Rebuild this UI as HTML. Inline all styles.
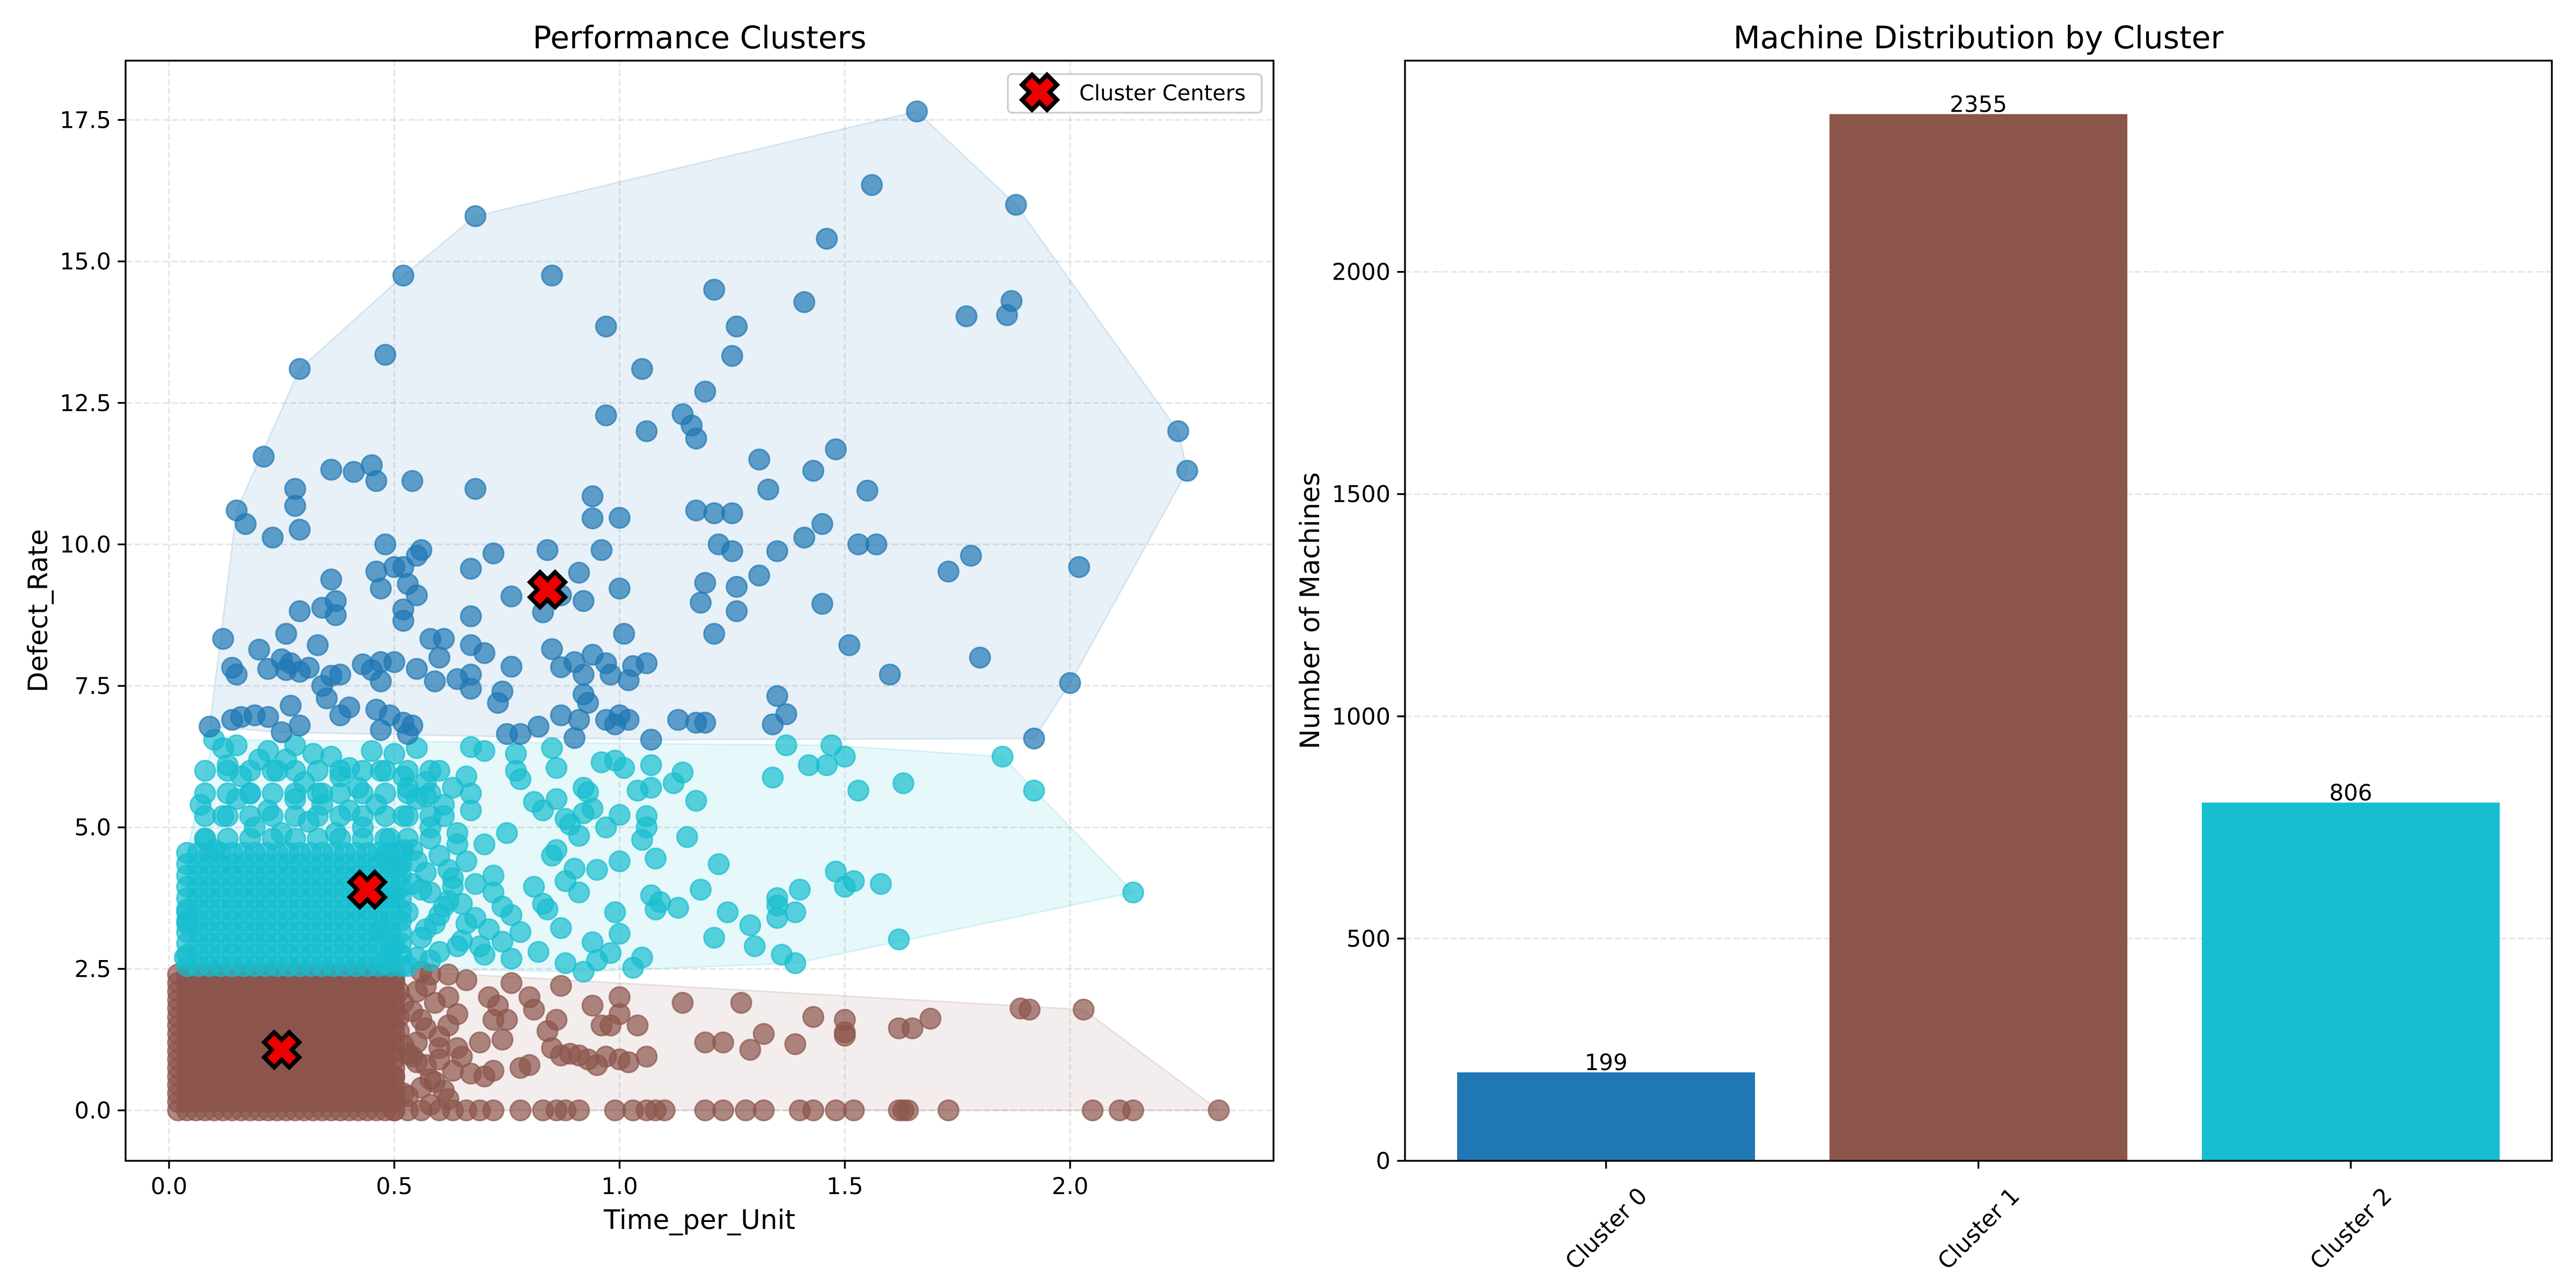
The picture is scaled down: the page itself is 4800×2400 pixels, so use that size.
<!DOCTYPE html>
<html><head><meta charset="utf-8"><title>Performance Clusters</title>
<style>html,body{margin:0;padding:0;background:#fff}svg{display:block}text{font-family:"DejaVu Sans","Liberation Sans",sans-serif;fill:#000}</style>
</head><body>
<svg id="fig" xmlns="http://www.w3.org/2000/svg" width="4800" height="2400" viewBox="0 0 4800 2400"></svg>
<script>
// ---------- Scatter data ----------
const blueX=[1.66,1.56,1.88,0.68,1.46,0.52,0.85,1.21,1.41,1.87,1.86,1.77,0.97,1.26,0.48,1.25,0.29,1.05,1.19,1.14,0.97,1.16,1.17,1.06,2.24,2.26,0.21,1.31,1.48,0.36,0.41,0.45,0.46,0.54,1.43,0.68,0.28,0.28,1.33,1.55,0.15,0.17,0.23,0.29,0.94,0.94,1.0,1.17,1.21,1.25,1.45,1.41,0.48,0.56,0.55,0.84,0.96,1.22,1.25,1.35,1.53,1.57,0.46,0.50,0.52,0.67,0.72,0.91,2.02,1.73,1.78,1.31,0.47,0.53,0.55,0.52,0.36,0.37,0.29,0.34,0.37,0.52,0.67,0.76,0.87,0.83,0.92,1.0,1.19,1.18,1.26,1.26,1.45,0.12,0.26,0.33,0.58,0.61,0.67,0.70,0.85,1.01,1.21,1.51,1.80,0.14,0.15,0.2,0.22,0.25,0.26,0.27,0.31,0.29,0.34,0.35,0.36,0.38,0.43,0.45,0.47,0.47,0.50,0.55,0.59,0.60,0.64,0.67,0.67,0.74,0.73,0.76,0.87,0.90,0.94,0.97,0.98,0.92,0.92,0.93,1.02,1.03,1.06,1.60,2.0,0.09,0.14,0.16,0.19,0.22,0.27,0.29,0.25,0.38,0.40,0.46,0.49,0.47,0.52,0.54,0.53,0.75,0.78,0.82,0.87,0.90,0.91,0.97,0.99,1.0,1.02,1.07,1.13,1.17,1.19,1.34,1.35,1.37,1.92];
const blueY=[17.65,16.35,16.0,15.8,15.4,14.75,14.75,14.5,14.28,14.3,14.05,14.03,13.85,13.85,13.35,13.33,13.1,13.1,12.7,12.3,12.28,12.1,11.87,12.0,12.0,11.3,11.55,11.5,11.68,11.32,11.28,11.4,11.12,11.12,11.3,10.98,10.98,10.68,10.97,10.95,10.6,10.36,10.12,10.26,10.85,10.46,10.47,10.6,10.55,10.55,10.36,10.12,10.0,9.9,9.8,9.9,9.9,10.0,9.88,9.88,10.0,10.0,9.52,9.6,9.6,9.57,9.84,9.5,9.6,9.52,9.8,9.45,9.22,9.3,9.1,8.85,9.38,9.0,8.82,8.88,8.75,8.65,8.73,9.08,9.1,8.8,9.0,9.22,9.32,8.97,9.25,8.82,8.95,8.33,8.42,8.22,8.33,8.33,8.22,8.08,8.15,8.42,8.42,8.22,8.0,7.82,7.7,8.14,7.8,7.97,7.78,7.9,7.82,7.75,7.5,7.28,7.68,7.7,7.88,7.78,7.92,7.58,7.92,7.8,7.58,8.0,7.62,7.7,7.45,7.4,7.2,7.84,7.83,7.92,8.05,7.9,7.7,7.7,7.35,7.2,7.6,7.85,7.9,7.7,7.55,6.78,6.9,6.95,6.98,6.95,7.15,6.8,6.68,6.98,7.12,7.08,6.98,6.72,6.85,6.8,6.65,6.65,6.65,6.78,6.98,6.58,6.9,6.9,6.82,6.98,6.9,6.55,6.9,6.85,6.85,6.82,7.32,7.0,6.57];

const cyanX=[0.70,0.77,0.67,0.85,0.86,0.77,0.78,0.96,0.99,1.01,1.07,1.14,1.37,1.42,1.46,1.47,1.5,1.85,1.34,1.63,1.53,1.92,0.92,0.93,1.04,1.07,1.12,1.17,0.81,0.83,0.86,0.88,0.92,0.94,0.89,0.91,0.97,1.0,1.06,1.06,1.05,1.15,1.08,1.0,0.95,0.90,0.85,0.86,0.88,0.91,0.83,0.81,0.84,0.87,0.88,0.82,0.78,0.76,0.74,0.76,0.70,0.72,0.72,0.70,0.75,0.94,0.95,0.98,1.0,0.99,1.03,1.05,1.09,1.07,1.08,1.13,1.18,1.22,1.21,1.24,1.29,1.30,1.35,1.35,1.35,1.39,1.40,1.36,1.39,1.48,1.50,1.52,1.58,1.62,2.14,0.92,
0.10,0.12,0.15,0.13,0.16,0.18,0.20,0.22,0.24,0.26,0.28,0.30,0.32,0.34,0.36,0.38,0.40,0.42,0.45,0.47,0.50,0.52,0.55,0.57,0.60,0.63,0.66,0.12,0.15,0.19,0.22,0.25,0.28,0.31,0.34,0.37,0.40,0.43,0.46,0.49,0.52,0.55,0.58,0.61,0.64,0.67,0.08,0.07,0.10,0.48,0.51,0.54,0.57,0.60,0.63,0.66,0.50,0.53,0.56,0.59,0.62,0.65,0.68,0.50,0.55,0.60,0.47,0.48,0.04,0.035,0.04,
0.53,0.56,0.58,0.61,0.64,0.54,0.57,0.60,0.63,0.66,0.69,0.52,0.55,0.58,0.62,0.65,0.68,0.71,0.74,0.53,0.57,0.61,0.64,0.67];
const cyanY=[6.35,6.3,6.42,6.4,6.05,6.0,5.85,6.15,6.18,6.05,6.1,5.97,6.45,6.1,6.1,6.45,6.25,6.25,5.88,5.78,5.65,5.65,5.7,5.62,5.65,5.7,5.78,5.47,5.45,5.3,5.5,5.15,5.25,5.33,5.05,4.85,5.0,5.22,5.2,5.0,4.78,4.83,4.45,4.4,4.25,4.27,4.5,4.6,4.05,3.85,3.65,3.95,3.55,3.22,2.6,2.8,3.15,3.45,2.98,2.68,2.75,3.85,4.15,4.7,4.9,2.97,2.65,2.78,3.12,3.5,2.52,2.7,3.68,3.8,3.55,3.58,3.9,4.35,3.05,3.5,3.27,2.9,3.75,3.62,3.4,3.5,3.9,2.75,2.6,4.22,3.95,4.05,4.0,3.02,3.85,2.45,
6.55,6.4,6.45,6.1,5.9,5.6,6.2,6.35,6.0,6.2,6.45,5.8,6.3,5.6,6.25,5.9,6.05,5.7,6.35,6.0,6.3,5.9,6.4,5.8,6.0,5.7,5.9,5.2,5.5,5.0,5.3,4.9,5.5,5.1,5.4,4.9,5.3,5.0,5.4,4.8,5.2,5.5,5.0,5.4,4.9,5.3,4.8,5.4,4.6,4.5,4.3,4.6,4.2,4.5,4.1,4.4,3.8,3.5,3.9,3.3,3.7,3.0,3.4,2.9,2.7,2.8,3.2,2.6,3.3,2.7,3.5,
2.55,3.05,2.65,3.6,2.9,4.0,3.2,3.45,3.95,3.3,2.9,4.6,4.4,3.85,4.25,3.65,4.0,3.2,3.6,5.7,5.55,5.2,4.7,5.6];
// packed core of cluster 2 (x levels and y levels of the dense region)
const cyanDenseX=[0.04,0.065,0.09,0.115,0.14,0.165,0.19,0.215,0.24,0.265,0.29,0.315,0.34,0.365,0.39,0.415,0.44,0.465,0.49,0.515];
const cyanDenseY=[2.55,2.75,2.95,3.15,3.35,3.55,3.75,3.95,4.15,4.35,4.55];
const cyanMidX=[0.08,0.13,0.18,0.23,0.28,0.33,0.38,0.43,0.48,0.53,0.58];
const cyanMidY=[4.8,5.2,5.6,6.0];

const brownX=[0.6,0.63,0.66,0.69,0.72,0.78,0.83,0.86,0.88,0.91,0.99,1.03,1.06,1.08,1.10,1.19,1.23,1.28,1.32,1.40,1.43,1.48,1.52,1.62,1.63,1.64,1.73,2.05,2.11,2.14,2.33,
0.62,0.66,0.71,0.73,0.75,0.76,0.8,0.81,0.84,0.86,0.87,0.85,0.87,0.89,0.91,0.93,0.95,0.97,1.0,1.02,1.06,0.96,0.98,0.94,1.0,1.0,1.04,1.14,1.27,1.19,1.23,1.29,1.32,1.39,1.43,1.50,1.50,1.50,1.62,1.65,1.69,1.89,1.91,2.03,0.72,0.7,0.67,0.64,0.62,0.65,0.78,0.80,0.69,0.74,0.72,
0.50,0.52,0.51,0.53,0.50,0.52,0.55,0.56,0.55,0.57,0.56,0.58,0.59,0.6,0.6,0.59,0.62,0.63,0.62,0.5,0.53,0.56,0.58,
0.51,0.54,0.57,0.52,0.55,0.58,0.53,0.56,0.51,0.54,0.57,0.60,0.64,0.61];
const brownY=[0,0,0,0,0,0,0,0,0,0,0,0,0,0,0,0,0,0,0,0,0,0,0,0,0,0,0,0,0,0,0,
2.4,2.3,2.0,1.85,1.6,2.25,2.0,1.78,1.4,1.6,2.2,1.1,0.97,1.0,0.97,0.9,0.8,0.95,0.9,0.85,0.95,1.5,1.5,1.85,2.0,1.7,1.5,1.9,1.9,1.2,1.2,1.07,1.35,1.17,1.65,1.6,1.38,1.32,1.45,1.45,1.62,1.8,1.78,1.78,0.7,0.6,0.65,1.1,1.5,0.95,0.75,0.8,1.2,1.25,1.6,
2.3,1.9,1.4,1.0,0.6,0.3,2.1,1.6,1.2,0.8,0.4,2.4,1.9,1.3,0.9,0.5,2.0,0.7,0.2,0,0,0,0.1,
2.1,1.75,1.45,1.15,0.85,0.55,0.25,2.45,1.65,0.95,2.2,1.1,1.7,0.35];
const brownDenseX=[0.02,0.04,0.06,0.08,0.10,0.12,0.14,0.16,0.18,0.20,0.22,0.24,0.26,0.28,0.30,0.32,0.34,0.36,0.38,0.40,0.42,0.44,0.46,0.48,0.50];
const brownDenseY=[0,0.15,0.3,0.45,0.6,0.75,0.9,1.05,1.2,1.35,1.5,1.65,1.8,1.95,2.1,2.25,2.4];

const centerX=[0.84,0.25,0.44];
const centerY=[9.2,1.07,3.9];

// ---------- Bar data ----------
const barCats=["Cluster 0","Cluster 1","Cluster 2"];
const barVals=[199,2355,806];
const xTicks=[0,0.5,1.0,1.5,2.0];
const xTickLabels=["0.0","0.5","1.0","1.5","2.0"];
const yTicks=[0,2.5,5,7.5,10,12.5,15,17.5];
const yTickLabels=["0.0","2.5","5.0","7.5","10.0","12.5","15.0","17.5"];
const barTicks=[0,500,1000,1500,2000];

const NS="http://www.w3.org/2000/svg";
const svg=document.getElementById('fig');
function mk(tag,attrs,parent){const e=document.createElementNS(NS,tag);for(const k in attrs)e.setAttribute(k,attrs[k]);(parent||svg).appendChild(e);return e;}
function txt(s,attrs,parent){const e=mk('text',attrs,parent);e.textContent=s;return e;}
const TF=43, LF=50, TTF=58, VF=42;

// ===== Left axes =====
const L={x0:234,x1:2373,y0:113,y1:2163};
const sx=v=>315+v*839.5;
const sy=v=>2069-v*105.46;
const gL=mk('g',{});


const clip=mk('clipPath',{id:'clipL'});mk('rect',{x:L.x0,y:L.y0,width:L.x1-L.x0,height:L.y1-L.y0},clip);
xTicks.forEach(t=>{const l=mk('line',{x1:sx(t),x2:sx(t),y1:L.y0,y2:L.y1,stroke:'#b0b0b0','stroke-opacity':0.3,'stroke-width':3.3,'stroke-dasharray':'12,5'},gL);});
yTicks.forEach(t=>{const l=mk('line',{x1:L.x0,x2:L.x1,y1:sy(t),y2:sy(t),stroke:'#b0b0b0','stroke-opacity':0.3,'stroke-width':3.3,'stroke-dasharray':'12,5'},gL);});

function expand(xs,ys,grids){const p=[];xs.forEach((x,i)=>p.push([x,ys[i]]));(grids||[]).forEach(g=>g[1].forEach(y=>g[0].forEach(x=>p.push([x,y]))));return p;}
const clusters=[
 {name:'cluster-0',color:'#1f77b4',pts:expand(blueX,blueY)},
 {name:'cluster-1',color:'#8c564b',pts:expand(brownX,brownY,[[brownDenseX,brownDenseY]])},
 {name:'cluster-2',color:'#17becf',pts:expand(cyanX,cyanY,[[cyanDenseX,cyanDenseY],[cyanMidX,cyanMidY]])}
];
function hull(p){p=p.slice().sort((a,b)=>a[0]-b[0]||a[1]-b[1]);const cr=(o,a,b)=>(a[0]-o[0])*(b[1]-o[1])-(a[1]-o[1])*(b[0]-o[0]);const lo=[],up=[];for(const q of p){while(lo.length>=2&&cr(lo[lo.length-2],lo[lo.length-1],q)<=0)lo.pop();lo.push(q);}for(let i=p.length-1;i>=0;i--){const q=p[i];while(up.length>=2&&cr(up[up.length-2],up[up.length-1],q)<=0)up.pop();up.push(q);}up.pop();lo.pop();return lo.concat(up);}
clusters.forEach(c=>{const h=hull(c.pts);const poly=mk('polygon',{points:h.map(q=>sx(q[0])+','+sy(q[1])).join(' '),fill:c.color,'fill-opacity':0.1,stroke:c.color,'stroke-opacity':0.15,'stroke-width':3,'clip-path':'url(#clipL)'},gL);});
[clusters[1],clusters[2],clusters[0]].forEach(c=>{const g=mk('g',{'clip-path':'url(#clipL)'},gL);c.pts.forEach(q=>{const d=mk('circle',{cx:sx(q[0]),cy:sy(q[1]),r:19,fill:c.color,'fill-opacity':0.7,stroke:c.color,'stroke-opacity':0.7,'stroke-width':3},g);});});
function xMark(cx,cy,s,parent){const w=s*0.2,L2=s*0.5;const P=[];const base=[[-w,-L2],[w,-L2],[w,-w],[L2,-w],[L2,w],[w,w],[w,L2],[-w,L2],[-w,w],[-L2,w],[-L2,-w],[-w,-w]];
 const c=Math.SQRT1_2;base.forEach(p=>P.push([cx+(p[0]-p[1])*c,cy+(p[0]+p[1])*c]));
 return mk('polygon',{points:P.map(p=>p.join(',')).join(' '),fill:'#ee0000',stroke:'#000','stroke-width':8,'stroke-linejoin':'miter'},parent);}
centerX.forEach((x,i)=>{const m=xMark(sx(x),sy(centerY[i]),66,gL);});
const frL=mk('rect',{x:L.x0,y:L.y0,width:L.x1-L.x0,height:L.y1-L.y0,fill:'none',stroke:'#000','stroke-width':3.3},gL);
xTicks.forEach((t,i)=>{mk('line',{x1:sx(t),x2:sx(t),y1:L.y1,y2:L.y1+14.6,stroke:'#000','stroke-width':3.3},gL);const e=txt(xTickLabels[i],{x:sx(t),y:L.y1+62,'font-size':TF,'text-anchor':'middle'},gL);});
yTicks.forEach((t,i)=>{mk('line',{x1:L.x0-14.6,x2:L.x0,y1:sy(t),y2:sy(t),stroke:'#000','stroke-width':3.3},gL);const e=txt(yTickLabels[i],{x:L.x0-27,y:sy(t)+15,'font-size':TF,'text-anchor':'end'},gL);});
let e=txt('Performance Clusters',{x:(L.x0+L.x1)/2,y:90,'font-size':TTF,'text-anchor':'middle'},gL);
e=txt('Time_per_Unit',{x:(L.x0+L.x1)/2,y:2290,'font-size':LF,'text-anchor':'middle'},gL);
e=txt('Defect_Rate',{x:0,y:0,'font-size':LF,'text-anchor':'middle',transform:'translate(88,1138) rotate(-90)'},gL);
const lg=mk('g',{},gL);
mk('rect',{x:1878,y:138,width:473,height:72,rx:8,fill:'#fff','fill-opacity':0.8,stroke:'#cccccc','stroke-width':3.3},lg);
const lm=xMark(1937,172,66,lg);
e=txt('Cluster Centers',{x:2011,y:187,'font-size':40},lg);

// ===== Right axes =====
const R={x0:2618,x1:4755,y0:113,y1:2163};
const bx=v=>R.x0+(v+0.54)*(R.x1-R.x0)/3.08;
const by=v=>R.y1-v*0.8282;
const gR=mk('g',{});


barTicks.forEach(t=>{const l=mk('line',{x1:R.x0,x2:R.x1,y1:by(t),y2:by(t),stroke:'#b0b0b0','stroke-opacity':0.3,'stroke-width':3.3,'stroke-dasharray':'12,5'},gR);});
const barColors=['#1f77b4','#8c564b','#17becf'];
barCats.forEach((c,i)=>{const r=mk('rect',{x:bx(i-0.4),y:by(barVals[i]),width:bx(i+0.4)-bx(i-0.4),height:by(0)-by(barVals[i]),fill:barColors[i]},gR);
 const t=txt(String(barVals[i]),{x:bx(i),y:by(barVals[i])-4,'font-size':VF,'text-anchor':'middle'},gR);
 mk('line',{x1:bx(i),x2:bx(i),y1:R.y1,y2:R.y1+14.6,stroke:'#000','stroke-width':3.3},gR);
 const cl=txt(c,{x:0,y:0,'font-size':TF,'text-anchor':'middle',transform:`translate(${bx(i)},${R.y1+126}) rotate(-45) translate(0,15)`},gR);});
barTicks.forEach(t=>{mk('line',{x1:R.x0-14.6,x2:R.x0,y1:by(t),y2:by(t),stroke:'#000','stroke-width':3.3},gR);const l=txt(String(t),{x:R.x0-27,y:by(t)+15,'font-size':TF,'text-anchor':'end'},gR);});
const frR=mk('rect',{x:R.x0,y:R.y0,width:R.x1-R.x0,height:R.y1-R.y0,fill:'none',stroke:'#000','stroke-width':3.3},gR);
e=txt('Machine Distribution by Cluster',{x:(R.x0+R.x1)/2,y:90,'font-size':TTF,'text-anchor':'middle'},gR);
e=txt('Number of Machines',{x:0,y:0,'font-size':LF,'text-anchor':'middle',transform:'translate(2458,1138) rotate(-90)'},gR);
</script>
</body></html>
